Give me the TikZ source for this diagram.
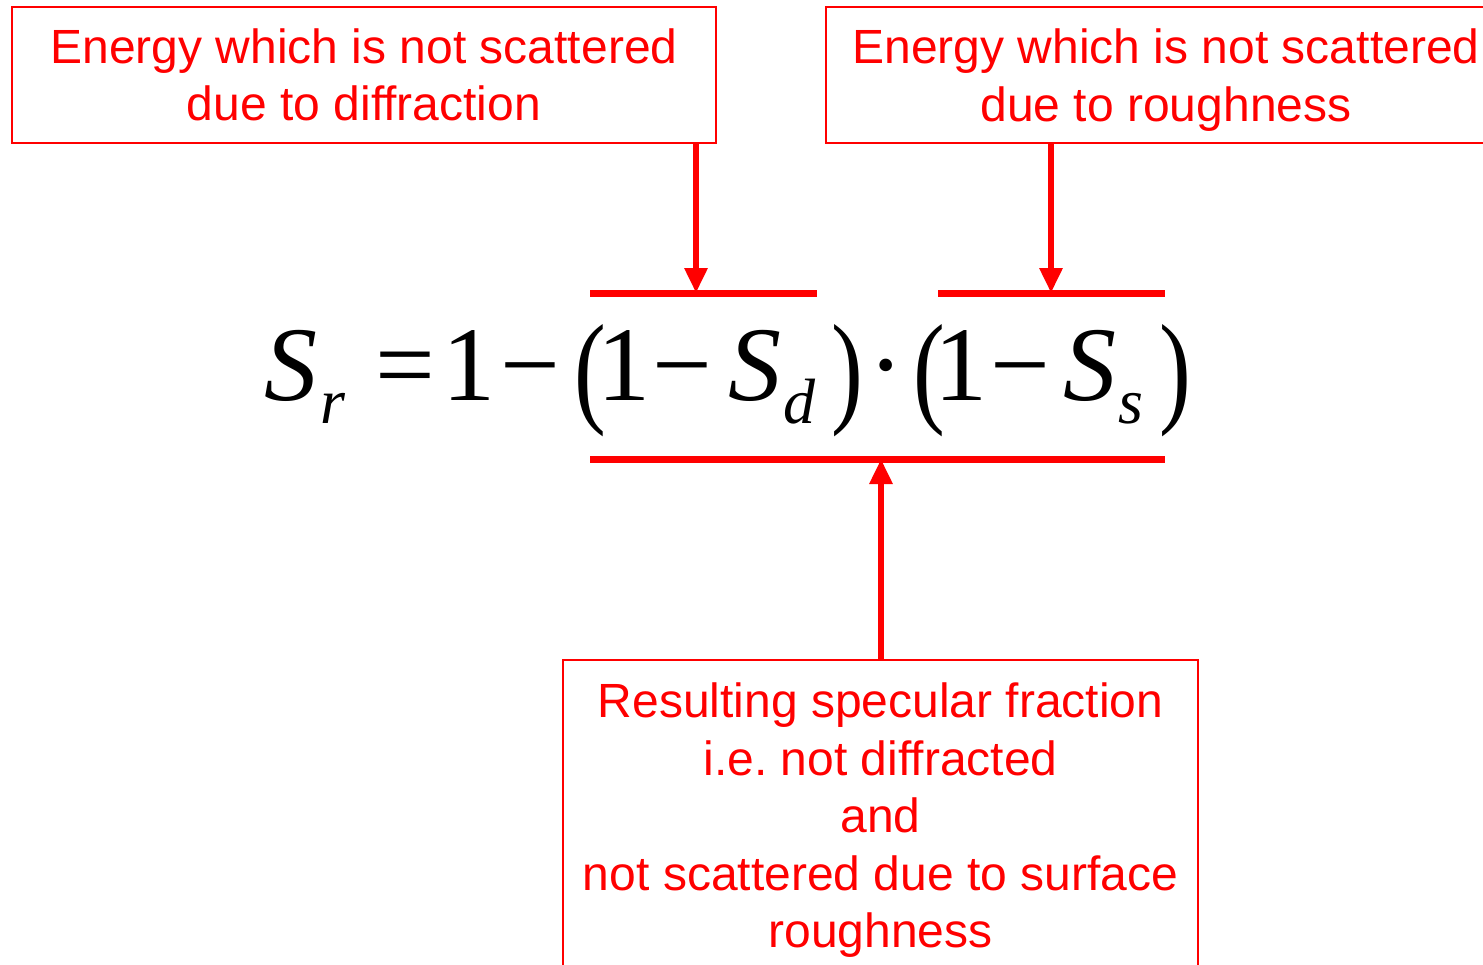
\documentclass[tikz,border=0pt]{standalone}
\usepackage{fontspec}
\usepackage{graphicx}
\setmainfont{Liberation Sans}
\newfontfamily\eqfont{Liberation Serif}
\usetikzlibrary{arrows.meta}
\definecolor{pred}{RGB}{255,0,0}
\frenchspacing
\tikzset{
 lbl/.style={draw=pred, line width=1pt, text=pred, align=center, font=\fontsize{24}{28.75}\selectfont, inner sep=0pt},
 bar/.style={fill=pred, draw=none, inner sep=0pt, minimum height=3.5pt},
 arr/.style={draw=pred, line width=3pt, -{Triangle[width=11pt,length=12.5pt]}},
 eq/.style={inner sep=0pt, anchor=base, font=\eqfont\fontsize{53}{53}\selectfont},
 eqi/.style={inner sep=0pt, anchor=base, font=\eqfont\itshape\fontsize{53}{53}\selectfont},
 subs/.style={inner sep=0pt, anchor=base, font=\eqfont\itshape\fontsize{32}{32}\selectfont},
 paren/.style={inner sep=0pt, anchor=center, font=\eqfont\fontsize{53}{53}\selectfont},
}
\begin{document}
\begin{tikzpicture}[x=0.5pt,y=-0.5pt]
\clip (0,0) rectangle (1483,964);
\fill[white] (0,0) rectangle (1483,964);
% boxes
\node[lbl, minimum width=352pt, minimum height=68pt] (box1) at (364,75)
  {Energy which is not scattered\\due to diffraction};
\node[lbl, minimum width=340pt, minimum height=68pt, text depth=0pt] (box2) at (1166,75)
  {Energy which is not scattered\\due to roughness};
\node[lbl, minimum width=317.5pt, inner ysep=11.5pt, anchor=north] (box3) at (880.5,659)
  {Resulting specular fraction\\i.e.\ not diffracted\\and\\not scattered due to surface\\roughness};
% bars
\node[bar, minimum width=113.5pt] (bar1) at (703.5,293) {};
\node[bar, minimum width=113.5pt] (bar2) at (1051.5,293) {};
\node[bar, minimum width=287.5pt] (bar3) at (877.5,459) {};
% arrows
\coordinate (a1) at (696,0);
\coordinate (a2) at (1051,0);
\coordinate (a3) at (881,0);
\draw[arr] (a1 |- box1.south) -- (a1 |- bar1.center);
\draw[arr] (a2 |- box2.south) -- (a2 |- bar2.center);
\draw[arr] (a3 |- box3.north) -- (a3 |- bar3.center);
% equation
\node[eqi] (S1) at (291,400) {S};
\node[subs] (r) at (333,423) {r};
\node[eq] (eqs) at (405,400) {=};
\node[eq] (one1) at (469,400) {1};
\node[eq] (m1) at (530,400) {−};
\node[paren] (p1) at (590,381) {\scalebox{0.9}[1.17]{(}};
\node[eq] (one2) at (624,400) {1};
\node[eq] (m2) at (682,400) {−};
\node[eqi] (S2) at (755,400) {S};
\node[subs] (d) at (799,423) {d};
\node[paren] (p2) at (847,381) {\scalebox{0.9}[1.17]{)}};
\node[eq] (dot) at (886,400) {·};
\node[paren] (p3) at (929,381) {\scalebox{0.9}[1.17]{(}};
\node[eq] (one3) at (961,400) {1};
\node[eq] (m3) at (1020,400) {−};
\node[eqi] (S3) at (1090,400) {S};
\node[subs] (s) at (1131,423) {s};
\node[paren] (p4) at (1175,381) {\scalebox{0.9}[1.17]{)}};
\end{tikzpicture}
\end{document}
